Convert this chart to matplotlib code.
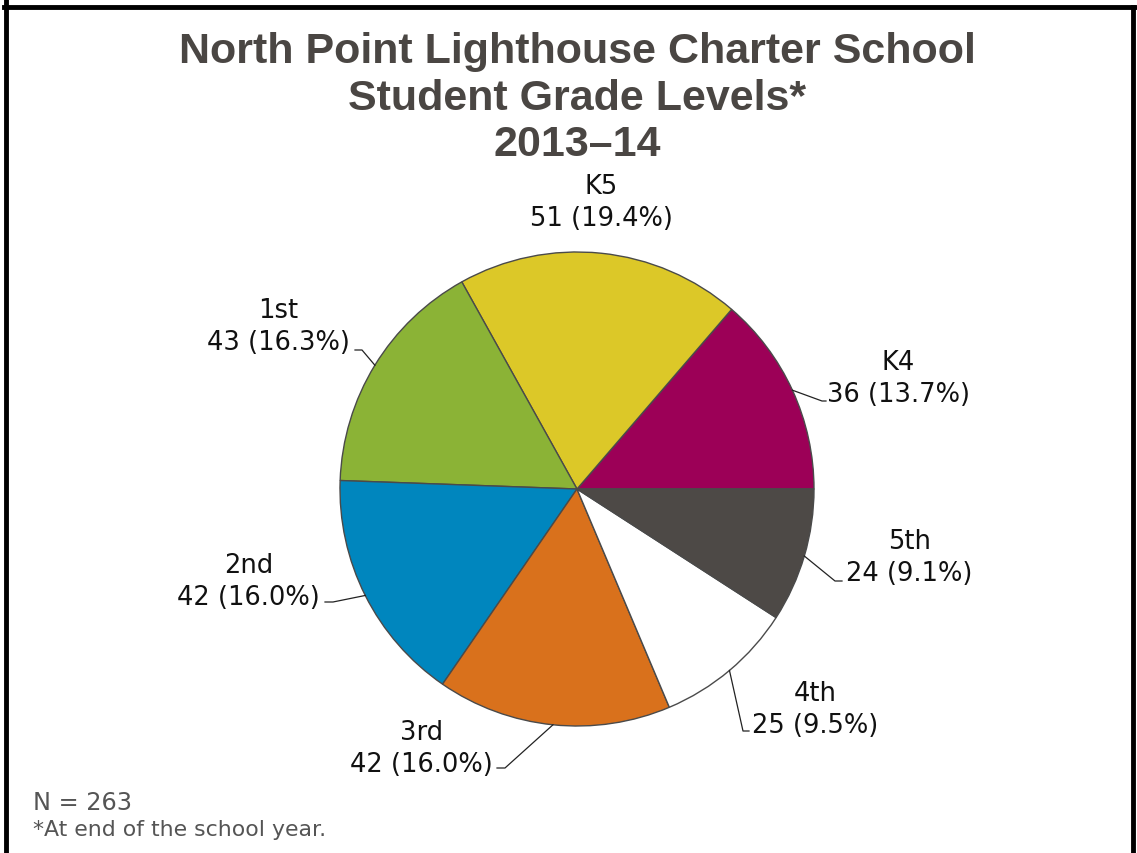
import numpy as np
import matplotlib.pyplot as plt
from matplotlib.lines import Line2D

# data
grades = ["K4", "K5", "1st", "2nd", "3rd", "4th", "5th"]
counts = [36, 51, 43, 42, 42, 25, 24]
pcts = [13.7, 19.4, 16.3, 16.0, 16.0, 9.5, 9.1]
colors = ["#9c0057", "#dcc828", "#8bb336", "#0086be", "#d9711c", "#ffffff", "#4d4946"]

W, H = 1137, 854
fig = plt.figure(figsize=(W / 100, H / 100), dpi=100)
ax = fig.add_axes([0, 0, 1, 1])

cx, cy, r = 577, H - 490, 237
wedges, _ = ax.pie(counts, colors=colors, startangle=0, counterclock=True,
                   center=(cx, cy), radius=r, frame=True,
                   wedgeprops=dict(edgecolor="#4a4a4a", linewidth=1))
ax.set_xlim(0, W)
ax.set_ylim(0, H)
ax.set_aspect("equal")
ax.axis("off")

# label placement in image pixels: text x, block centre y, alignment,
# leader elbow, end of the short horizontal piece
layout = {
    "K4": (827, 379, "left", (822, 402), (826, 402)),
    "K5": (601, 203, "center", None, None),
    "1st": (350, 327, "right", (362, 351), (355, 351)),
    "2nd": (320, 582, "right", (333, 603), (325, 603)),
    "3rd": (493, 749, "right", (505, 769), (497, 769)),
    "4th": (752, 710, "left", (743, 732), (749, 732)),
    "5th": (846, 558, "left", (835, 582), (842, 582)),
}

for w, g, c, p in zip(wedges, grades, counts, pcts):
    tx, ty, ha, elbow, hend = layout[g]
    ax.text(tx, H - ty, f"{g}\n{c} ({p:.1f}%)", ha=ha, va="center",
            multialignment="center", fontsize=18.5, family="DejaVu Sans",
            color="#111111", linespacing=1.3)
    if elbow is not None:
        ang = np.deg2rad((w.theta1 + w.theta2) / 2)
        ex, ey = cx + r * np.cos(ang), cy + r * np.sin(ang)
        ax.plot([ex, elbow[0], hend[0]], [ey, H - elbow[1], H - hend[1]],
                color="#222222", lw=0.9)

# title
title_col = "#4a4643"
for txt, y in [("North Point Lighthouse Charter School", 52),
               ("Student Grade Levels*", 99),
               ("2013\u201314", 145)]:
    fig.text(577 / W, 1 - y / H, txt, ha="center", va="center",
             fontsize=31, fontweight="bold", family="Liberation Sans", color=title_col)

fig.text(33 / W, 1 - 803 / H, "N = 263", ha="left", va="center",
         fontsize=17.3, family="DejaVu Sans", color="#555555")
fig.text(33 / W, 1 - 830 / H, "*At end of the school year.", ha="left", va="center",
         fontsize=15.8, family="DejaVu Sans", color="#555555")

# frame around the figure (bottom cut off)
for xs, ys in [([6, 6], [H, 0]), ([4, 1135], [H - 8, H - 8]), ([1133, 1133], [H - 8, 0])]:
    fig.add_artist(Line2D([x / W for x in xs], [y / H for y in ys],
                          color="black", lw=3.5, transform=fig.transFigure))

fig.savefig("out.png", dpi=100)
